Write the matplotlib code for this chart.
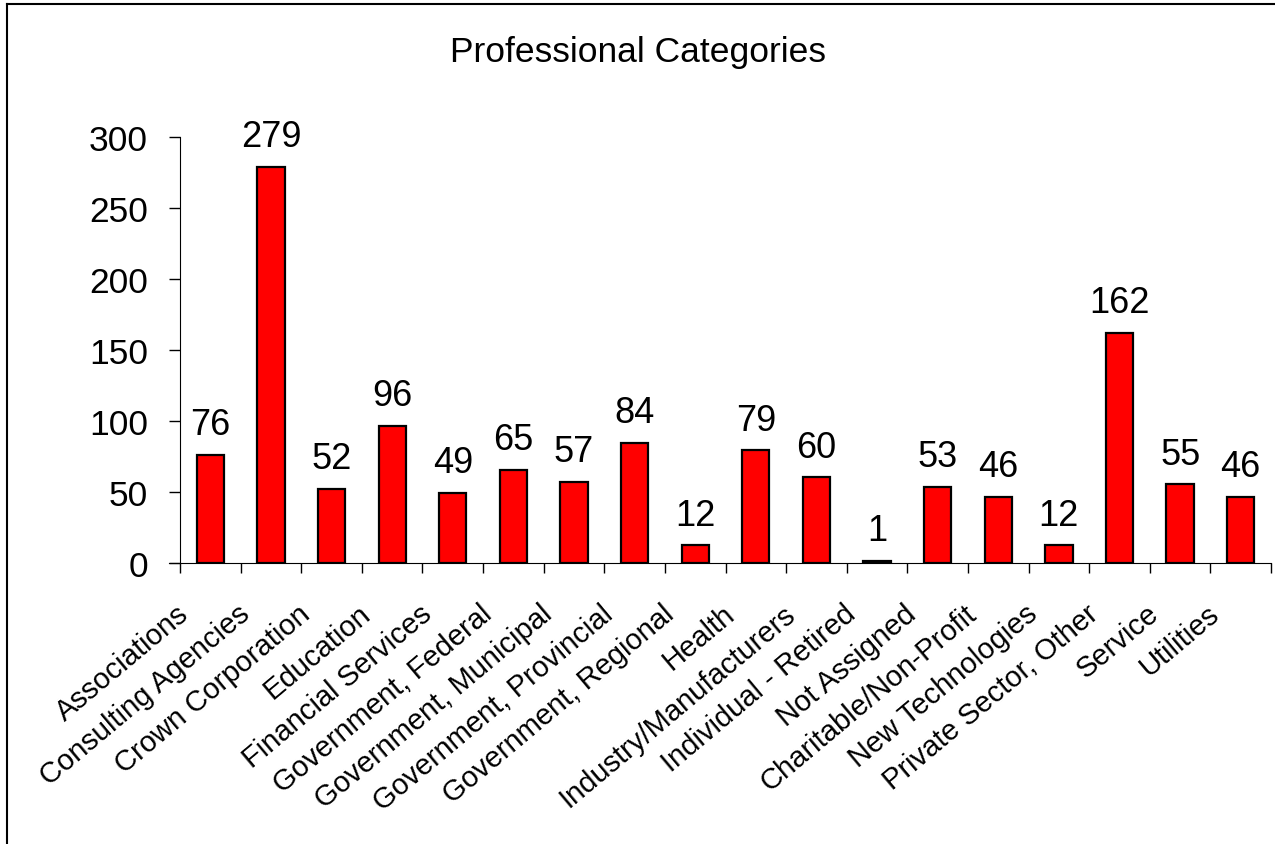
import matplotlib.pyplot as plt
from matplotlib.lines import Line2D
from matplotlib.transforms import ScaledTranslation

plt.rcParams['font.family'] = ['Liberation Sans', 'DejaVu Sans']

categories = ["Associations", "Consulting Agencies", "Crown Corporation", "Education",
              "Financial Services", "Government, Federal", "Government, Municipal",
              "Government, Provincial", "Government, Regional", "Health",
              "Industry/Manufacturers", "Individual - Retired", "Not Assigned",
              "Charitable/Non-Profit", "New Technologies", "Private Sector, Other",
              "Service", "Utilities"]
counts = [76, 279, 52, 96, 49, 65, 57, 84, 12, 79, 60, 1, 53, 46, 12, 162, 55, 46]
yticks = [0, 50, 100, 150, 200, 250, 300]

fig = plt.figure(figsize=(12.75, 8.45), dpi=100)
ax = fig.add_axes([0.1412, 0.3331, 0.8557, 0.5039])

x = list(range(len(categories)))
ax.bar(x, counts, width=0.45, color="#ff0000", edgecolor="black", linewidth=1.6)

for xi, v in zip(x, counts):
    ax.annotate(str(v), (xi, v), xytext=(0, 15), textcoords="offset points",
                ha="center", va="baseline", fontsize=26)

ax.set_xlim(-0.5, len(categories) - 0.5)
ax.set_ylim(0, 300)
ax.set_yticks(yticks)
ax.tick_params(axis="y", labelsize=25.5, length=8, width=1, direction="out", pad=15)

# x ticks sit between categories, labels at the bar centers
ax.set_xticks([i - 0.5 for i in range(len(categories) + 1)])
ax.set_xticklabels([])
ax.set_xticks(x, minor=True)
ax.set_xticklabels(categories, minor=True, rotation=40, ha="right", va="center",
                   rotation_mode="anchor", fontsize=21)
ax.tick_params(axis="x", which="major", length=7, width=1)
ax.tick_params(axis="x", which="minor", length=0, pad=34)
shift = ScaledTranslation(-0.25, 0, fig.dpi_scale_trans)
for lab in ax.get_xticklabels(minor=True):
    lab.set_transform(lab.get_transform() + shift)

for s in ["top", "right"]:
    ax.spines[s].set_visible(False)
ax.spines["bottom"].set_bounds(-0.68, len(categories) - 0.5)

fig.text(0.5, 0.938, "Professional Categories", ha="center", va="center", fontsize=25.5)

# border around the chart area (left and top edges visible)
fig.add_artist(Line2D([0.0055, 0.0055], [0, 0.994], color="black", lw=1.5, transform=fig.transFigure))
fig.add_artist(Line2D([0.0055, 1.0], [0.994, 0.994], color="black", lw=1.5, transform=fig.transFigure))

fig.savefig("out.png")
